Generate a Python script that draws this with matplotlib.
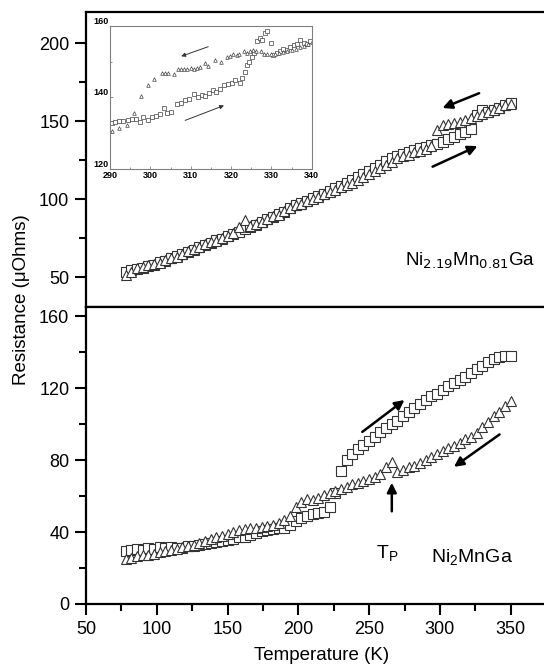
import numpy as np
import matplotlib
matplotlib.use('Agg')
import matplotlib.pyplot as plt
from matplotlib.ticker import MultipleLocator

plt.rcParams['font.family'] = ['Liberation Sans', 'DejaVu Sans']

# ---- data ----
# temperature grid of the main panels (K)
temp = [78, 82, 86, 90, 94, 98, 102, 106, 110, 114, 118, 122, 126, 130, 134,
        138, 142, 146, 150, 154, 158, 162, 166, 170, 174, 178, 182, 186, 190,
        194, 198, 202, 206, 210, 214, 218, 222, 226, 230, 234, 238, 242, 246,
        250, 254, 258, 262, 266, 270, 274, 278, 282, 286, 290, 294, 298, 302,
        306, 310, 314, 318, 322, 326, 330, 334, 338, 342, 346, 350]

# Ni2.19Mn0.81Ga (upper panel)
top_heat = [53.0, 54.5, 55.0, 56.0, 57.0, 58.0, 59.5, 60.5, 62.0, 63.5, 65.0,
            66.0, 67.5, 69.0, 70.5, 72.0, 73.5, 74.5, 76.0, 77.5, 79.0, 80.5,
            82.0, 83.5, 85.0, 87.0, 88.5, 90.5, 92.0, 94.0, 96.0, 97.5, 99.0,
            100.5, 102.0, 103.5, 105.0, 107.0, 108.5, 110.0, 112.0, 114.0,
            116.0, 118.0, 120.0, 122.0, 124.5, 126.0, 127.5, 129.0, 130.0,
            131.5, 132.5, 133.5, 134.5, 135.5, 136.5, 138.5, 140.0, 141.5,
            143.0, 145.0, 154.0, 157.0, 155.5, 157.0, 158.5, 160.0, 161.5]
top_cool = [51.5, 53.0, 55.5, 56.5, 57.5, 58.5, 59.0, 61.0, 62.5, 63.0, 64.5,
            66.5, 68.0, 69.5, 71.0, 72.5, 73.0, 75.0, 76.5, 78.0, 82.0, 86.5,
            82.5, 84.0, 85.5, 87.5, 89.0, 90.0, 92.5, 94.5, 96.5, 97.0, 98.5,
            100.0, 101.5, 103.0, 104.5, 106.0, 107.5, 109.0, 110.5, 112.0,
            114.0, 116.0, 118.0, 120.0, 122.0, 124.0, 126.0, 127.5, 128.5,
            130.0, 131.0, 132.0, 134.0, 144.0, 147.5, 148.0, 149.0, 149.5,
            150.5, 152.0, 153.0, 154.5, 155.5, 157.0, 158.5, 160.0, 161.0]

# Ni2MnGa (lower panel)
bot_heat = [29.5, 30.0, 30.5, 30.0, 31.0, 30.5, 31.5, 31.0, 31.5, 31.0, 31.0,
            32.0, 32.5, 33.0, 33.5, 34.0, 34.5, 35.0, 35.5, 36.0, 37.0, 37.5,
            38.5, 39.5, 40.5, 41.0, 41.5, 42.0, 42.5, 44.0, 46.0, 48.0, 49.0,
            50.0, 50.5, 51.0, 54.0, 62.0, 74.0, 80.0, 83.5, 86.0, 88.5, 90.5,
            93.0, 95.5, 98.0, 100.0, 102.0, 104.5, 107.0, 109.0, 111.5, 113.5,
            115.5, 117.0, 119.0, 121.0, 123.0, 124.5, 126.5, 128.5, 130.5,
            132.5, 134.5, 136.5, 137.5, 138.0, 138.0]
bot_cool = [25.0, 25.5, 26.5, 27.0, 27.5, 28.0, 29.0, 29.5, 30.0, 30.5, 31.5,
            32.0, 33.0, 34.0, 35.0, 36.0, 37.0, 38.0, 39.0, 40.0, 41.0, 41.5,
            42.0, 42.5, 43.0, 43.5, 44.0, 45.0, 46.5, 49.0, 54.0, 57.0, 58.5,
            58.0, 59.0, 60.5, 62.0, 63.0, 64.0, 65.0, 66.5, 67.5, 68.5, 69.5,
            70.5, 72.5, 76.0, 79.0, 73.5, 74.5, 76.0, 77.0, 78.5, 80.0, 81.5,
            83.5, 85.0, 87.0, 88.0, 89.5, 91.5, 93.0, 95.0, 98.5, 101.5,
            104.5, 107.0, 110.0, 113.0]

# inset: Ni2.19Mn0.81Ga near the transition
in_heat_T = [290.4, 291.3, 292.3, 293.3, 294.4, 295.4, 296.5, 297.5, 298.3,
             299.3, 300.5, 301.5, 302.5, 303.3, 304.2, 305.1, 306.5, 307.5,
             308.6, 309.6, 310.7, 311.7, 312.7, 313.6, 314.6, 315.6, 316.4,
             317.3, 318.3, 319.3, 320.2, 321.0, 322.2, 322.7, 323.4, 324.0,
             324.5, 325.1, 325.8, 326.4, 327.1, 327.7, 328.3, 328.8, 329.8,
             330.5, 331.3, 332.2, 333.0, 333.8, 334.7, 335.5, 336.3, 337.1,
             338.0, 338.8, 339.6]
in_heat_R = [132.8, 133.1, 133.3, 133.5, 133.7, 133.9, 133.9, 133.2, 134.5,
             133.6, 134.5, 134.8, 135.3, 137.0, 135.5, 135.8, 138.2, 138.4,
             139.2, 139.6, 140.8, 140.2, 140.7, 140.4, 141.1, 142.1, 141.5,
             142.3, 143.5, 143.7, 144.0, 144.9, 143.9, 145.5, 147.2, 149.0,
             150.0, 151.2, 152.3, 155.6, 156.5, 156.0, 157.9, 158.5, 155.3,
             151.8, 152.5, 152.8, 153.5, 153.2, 154.0, 154.5, 155.0, 156.0,
             155.2, 155.0, 155.6]
in_cool_T = [290.4, 292.3, 294.3, 296.0, 297.8, 299.3, 300.8, 302.9, 303.7,
             304.4, 305.9, 306.8, 307.6, 308.4, 309.2, 310.0, 310.8, 311.6,
             312.4, 313.5, 314.4, 316.0, 317.5, 318.9, 319.8, 320.6, 321.4,
             322.0, 323.3, 324.0, 324.7, 325.5, 326.3, 327.4, 328.2, 329.0,
             330.0, 331.0, 332.0, 333.0, 334.0, 335.0, 336.0, 337.0, 338.0,
             339.0, 340.0]
in_cool_R = [130.6, 131.5, 132.4, 135.6, 140.4, 143.5, 145.2, 146.9, 146.9,
             146.7, 146.5, 148.0, 147.8, 147.8, 148.0, 148.2, 148.0, 148.3,
             148.5, 149.5, 148.7, 150.4, 150.0, 151.4, 151.6, 152.0, 151.8,
             152.2, 152.8, 152.5, 152.8, 153.2, 153.0, 152.8, 152.2, 152.0,
             152.2, 152.0, 152.4, 152.6, 152.8, 153.2, 153.5, 154.0, 154.2,
             155.0, 155.5]

fs = 13
mk = dict(linestyle='none', markerfacecolor='white', markeredgecolor='0.2',
          markeredgewidth=0.8, markersize=6.5)

fig = plt.figure(figsize=(5.44, 6.71), dpi=100)

# ---- upper panel ----
ax1 = fig.add_axes([86/544, 1-307/671, 458/544, 295/671])
ax1.plot(temp, top_heat, marker='s', **mk)
ax1.plot(temp, top_cool, marker='^', **mk)
ax1.set_xlim(50, 373.5)
ax1.set_ylim(30.8, 219.9)
ax1.yaxis.set_major_locator(MultipleLocator(50))
ax1.yaxis.set_minor_locator(MultipleLocator(25))
ax1.xaxis.set_major_locator(MultipleLocator(50))
ax1.xaxis.set_minor_locator(MultipleLocator(25))
ax1.tick_params(axis='y', which='major', direction='out', length=8, width=1.5,
                labelsize=fs, pad=4)
ax1.tick_params(axis='y', which='minor', direction='out', length=5, width=1.5)
# ticks on the shared line point down into the lower panel
ax1.tick_params(axis='x', which='major', direction='out', length=8, width=1.5,
                labelbottom=False)
ax1.tick_params(axis='x', which='minor', direction='out', length=5, width=1.5)
ax1.spines['right'].set_visible(False)
for s in ['left', 'top', 'bottom']:
    ax1.spines[s].set_linewidth(1.6)

ax1.annotate('', xy=(300, 157.7), xytext=(329.5, 168.5),
             arrowprops=dict(arrowstyle='-|>', color='black', lw=1.8,
                             mutation_scale=14))
ax1.annotate('', xy=(328.3, 134.7), xytext=(293, 120),
             arrowprops=dict(arrowstyle='-|>', color='black', lw=1.8,
                             mutation_scale=14))
ax1.text(275, 57, r'Ni$_{2.19}$Mn$_{0.81}$Ga', fontsize=fs + 0.5,
         ha='left', va='baseline')

# ---- lower panel ----
ax2 = fig.add_axes([86/544, 1-604/671, 458/544, 297/671])
ax2.plot(temp, bot_heat, marker='s', **mk)
ax2.plot(temp, bot_cool, marker='^', **mk)
ax2.set_xlim(50, 373.5)
ax2.set_ylim(0, 165.2)
ax2.xaxis.set_major_locator(MultipleLocator(50))
ax2.xaxis.set_minor_locator(MultipleLocator(25))
ax2.yaxis.set_major_locator(MultipleLocator(40))
ax2.yaxis.set_minor_locator(MultipleLocator(20))
ax2.tick_params(which='major', direction='out', length=8, width=1.5,
                labelsize=fs, pad=4)
ax2.tick_params(which='minor', direction='out', length=5, width=1.5)
ax2.spines['right'].set_visible(False)
for s in ['left', 'top', 'bottom']:
    ax2.spines[s].set_linewidth(1.6)

ax2.annotate('', xy=(276.5, 114.4), xytext=(243.6, 94.8),
             arrowprops=dict(arrowstyle='-|>', color='black', lw=1.8,
                             mutation_scale=14))
ax2.annotate('', xy=(308.3, 75.4), xytext=(343.7, 95.2),
             arrowprops=dict(arrowstyle='-|>', color='black', lw=1.8,
                             mutation_scale=14))
ax2.annotate('', xy=(266, 69), xytext=(266, 50),
             arrowprops=dict(arrowstyle='-|>', color='black', lw=1.8,
                             mutation_scale=14))
ax2.text(263, 25, r'T$_\mathregular{P}$', fontsize=fs + 1, ha='center',
         va='baseline')
ax2.text(294, 23, r'Ni$_\mathregular{2}$MnGa', fontsize=fs + 1, ha='left',
         va='baseline')

fig.text(22/544, 1-300/671, u'Resistance (\u03bcOhms)', rotation=90,
         fontsize=fs + 0.5, ha='center', va='center')
fig.text(322/544, 1-656/671, 'Temperature (K)', fontsize=fs + 0.5,
         ha='center', va='center')

# ---- inset ----
ax3 = fig.add_axes([110/544, 1-169/671, 201.7/544, 143.3/671])
ax3.plot(in_heat_T, in_heat_R, linestyle='none', marker='s', markersize=2.6,
         markerfacecolor='white', markeredgecolor='0.25', markeredgewidth=0.5)
ax3.plot(in_cool_T, in_cool_R, linestyle='none', marker='^', markersize=2.6,
         markerfacecolor='white', markeredgecolor='0.25', markeredgewidth=0.5)
ax3.set_xlim(290, 340)
ax3.set_ylim(120, 160)
ax3.xaxis.set_major_locator(MultipleLocator(10))
ax3.xaxis.set_minor_locator(MultipleLocator(5))
ax3.yaxis.set_major_locator(MultipleLocator(20))
ax3.yaxis.set_minor_locator(MultipleLocator(10))
ax3.tick_params(which='major', direction='in', length=2.5, width=0.6,
                labelsize=6.5, pad=1.5, color='0.5')
ax3.tick_params(axis='y', which='major', pad=1)
ax3.tick_params(which='minor', direction='in', length=1.5, width=0.6,
                color='0.5')
for lab in ax3.get_xticklabels() + ax3.get_yticklabels():
    lab.set_fontweight('bold')
for lab in ax3.get_yticklabels():
    lab.set_verticalalignment('bottom')
for s in ax3.spines.values():
    s.set_color('0.5')
    s.set_linewidth(0.8)
ax3.annotate('', xy=(307, 151.2), xytext=(315, 154.4),
             arrowprops=dict(arrowstyle='-|>', color='0.2', lw=0.7,
                             mutation_scale=6))
ax3.annotate('', xy=(318.9, 138), xytext=(308, 133.3),
             arrowprops=dict(arrowstyle='-|>', color='0.2', lw=0.7,
                             mutation_scale=6))

fig.savefig('out.png', dpi=100)
